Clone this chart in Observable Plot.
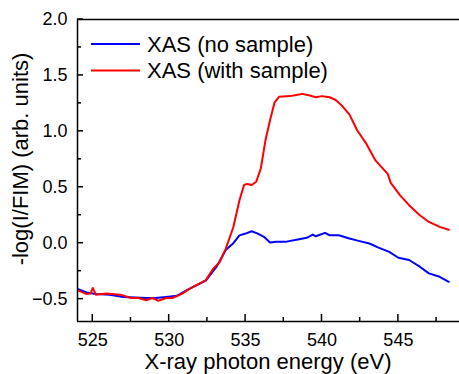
<!DOCTYPE html>
<html>
<head>
<meta charset="utf-8">
<script src="https://cdn.jsdelivr.net/npm/d3@7"></script>
<script src="https://cdn.jsdelivr.net/npm/@observablehq/plot@0.6"></script>
<style>
  html, body { margin: 0; padding: 0; background: #fff; }
  svg { display: block; }
</style>
</head>
<body>
<div id="chart"></div>
<script>
// Series names
const seriesNames = ["XAS (no sample)", "XAS (with sample)"];
const seriesColors = ["#0000ff", "#ff0000"];

// Blue: XAS (no sample)
const energyNoSample = [524.0, 524.6, 525.2, 526.1, 527.0, 527.8, 528.5, 529.1, 529.8, 530.5, 531.1, 531.8, 532.4, 533.1, 533.7, 534.2, 534.6, 535.0, 535.4, 535.8, 536.2, 536.6, 537.0, 537.6, 538.5, 539.0, 539.4, 539.6, 540.2, 540.5, 541.1, 541.8, 542.4, 543.1, 543.7, 544.4, 545.0, 545.7, 546.4, 547.0, 547.7, 548.3];
const valueNoSample = [-0.41, -0.44, -0.455, -0.46, -0.48, -0.485, -0.49, -0.49, -0.48, -0.47, -0.425, -0.375, -0.335, -0.21, -0.06, 0.0, 0.07, 0.086, 0.107, 0.086, 0.057, 0.006, 0.012, 0.012, 0.036, 0.048, 0.077, 0.062, 0.092, 0.071, 0.071, 0.042, 0.021, -0.003, -0.039, -0.077, -0.13, -0.15, -0.21, -0.27, -0.30, -0.345];

// Red: XAS (with sample)
const energyWithSample = [524.0, 524.6, 524.85, 525.0, 525.2, 525.9, 526.8, 527.5, 528.0, 528.5, 528.9, 529.3, 529.8, 530.2, 530.8, 531.3, 532.0, 532.4, 532.9, 533.3, 533.7, 534.2, 534.6, 534.9, 535.1, 535.4, 535.7, 536.0, 536.3, 536.6, 536.9, 537.2, 537.9, 538.5, 538.7, 539.2, 539.6, 540.0, 540.5, 540.9, 541.3, 541.8, 542.3, 542.9, 543.5, 544.3, 544.5, 545.1, 545.7, 546.4, 547.0, 547.7, 548.3];
const valueWithSample = [-0.42, -0.455, -0.45, -0.40, -0.46, -0.45, -0.46, -0.49, -0.49, -0.51, -0.49, -0.515, -0.49, -0.49, -0.455, -0.41, -0.36, -0.33, -0.225, -0.17, -0.05, 0.145, 0.384, 0.52, 0.53, 0.52, 0.55, 0.67, 0.92, 1.10, 1.26, 1.31, 1.315, 1.33, 1.335, 1.32, 1.305, 1.315, 1.305, 1.28, 1.23, 1.15, 1.01, 0.89, 0.74, 0.62, 0.54, 0.43, 0.34, 0.25, 0.19, 0.146, 0.12];

// Axis ticks
const xMajorTicks = [525, 530, 535, 540, 545];
const xMinorTicks = [527.5, 532.5, 537.5, 542.5, 547.5];
const yMajorTicks = [-0.5, 0.0, 0.5, 1.0, 1.5, 2.0];
const yMinorTicks = [-0.25, 0.25, 0.75, 1.25, 1.75];
const xDomain = [524, 549];
const yDomain = [-0.7, 2.0];
const xTitle = "X-ray photon energy (eV)";
const yTitle = "-log(I/FIM) (arb. units)";

const rows = [
  ...energyNoSample.map((e, i) => ({series: seriesNames[0], energy: e, value: valueNoSample[i]})),
  ...energyWithSample.map((e, i) => ({series: seriesNames[1], energy: e, value: valueWithSample[i]}))
];

const font = "Liberation Sans, Arial, Helvetica, sans-serif";

const chart = Plot.plot({
  width: 459,
  height: 374,
  marginLeft: 77,
  marginTop: 19,
  marginRight: 0,
  marginBottom: 53,
  style: {fontFamily: font, fontSize: "18px", color: "#000", background: "#fff"},
  x: {domain: xDomain},
  y: {domain: yDomain},
  color: {domain: seriesNames, range: seriesColors},
  marks: [
    Plot.line(rows, {x: "energy", y: "value", z: "series", stroke: "series", strokeWidth: 2, clip: true}),
    Plot.ruleY([yDomain[1]], {stroke: "#000", strokeWidth: 1.5}),
    Plot.ruleY([yDomain[0]], {stroke: "#000", strokeWidth: 1.5}),
    Plot.ruleX([xDomain[0]], {stroke: "#000", strokeWidth: 1.5}),
    Plot.axisX({ticks: xMajorTicks, tickSize: 0, tickPadding: 12, tickFormat: d => String(d), label: null, fontSize: 18}),
    Plot.axisY({ticks: yMajorTicks, tickSize: 0, tickPadding: 10, tickFormat: d3.format(".1f"), label: null, fontSize: 18})
  ]
});

const svg = d3.select(chart);
const xs = chart.scale("x");
const ys = chart.scale("y");
const x0 = xs.apply(xDomain[0]);
const y0 = ys.apply(yDomain[0]);

const tg = svg.append("g").attr("stroke", "#000").attr("stroke-width", 1.5);
xMajorTicks.forEach(t => tg.append("line").attr("x1", xs.apply(t)).attr("x2", xs.apply(t)).attr("y1", y0).attr("y2", y0 - 7));
xMinorTicks.forEach(t => tg.append("line").attr("x1", xs.apply(t)).attr("x2", xs.apply(t)).attr("y1", y0).attr("y2", y0 - 4));
yMajorTicks.forEach(t => tg.append("line").attr("y1", ys.apply(t)).attr("y2", ys.apply(t)).attr("x1", x0).attr("x2", x0 + 6));
yMinorTicks.forEach(t => tg.append("line").attr("y1", ys.apply(t)).attr("y2", ys.apply(t)).attr("x1", x0).attr("x2", x0 + 4));

// Axis titles
svg.append("text")
  .attr("x", (x0 + 459) / 2).attr("y", 369)
  .attr("text-anchor", "middle")
  .attr("font-family", font).attr("font-size", 22).attr("fill", "#000")
  .text(xTitle);
svg.append("text")
  .attr("transform", "translate(28,159) rotate(-90)")
  .attr("text-anchor", "middle")
  .attr("font-family", font).attr("font-size", 22).attr("fill", "#000")
  .text(yTitle);

// Legend
const lg = svg.append("g");
seriesNames.forEach((name, i) => {
  const ly = 44 + i * 26.5;
  lg.append("line").attr("x1", 91).attr("x2", 140).attr("y1", ly).attr("y2", ly)
    .attr("stroke", seriesColors[i]).attr("stroke-width", 2);
  lg.append("text").attr("x", 147).attr("y", ly + 7.5)
    .attr("text-anchor", "start")
    .attr("font-family", font).attr("font-size", 22).attr("fill", "#000")
    .text(name);
});

document.getElementById("chart").appendChild(chart);
</script>
</body>
</html>
